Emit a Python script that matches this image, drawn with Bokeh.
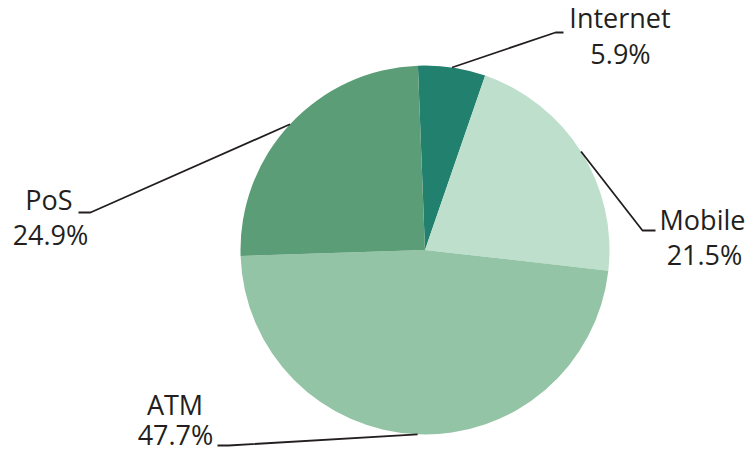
import math
from bokeh.plotting import figure
from bokeh.models import Range1d, ColumnDataSource
from bokeh.core.properties import value
from bokeh.embed import file_html
from bokeh.resources import INLINE

# ---- data ----
categories = ["Internet", "Mobile", "ATM", "PoS"]
shares = [5.9, 21.5, 47.7, 24.9]
colors = ["#22806F", "#BDDFCB", "#94C4A6", "#5A9D76"]

# ---- layout (reference pixel coords; y measured from top) ----
FIG_W, FIG_H = 754, 453
def fy(y):
    return FIG_H - y

CX, CY, R = 424.5, fy(249.5), 184.5
START_DEG = 92.2
TEXT_SHIFT = 11  # compensate for renderer baseline placement

# leader elbow / end points and label anchors per category
elbows = {"Internet": ((555, 32), (563, 32)),
          "Mobile": ((642, 230), (655, 230)),
          "ATM": ((228, 445), (217, 445)),
          "PoS": ((90, 212), (78, 212))}
name_pos = {"Internet": (619.5, 28), "Mobile": (702, 230), "ATM": (174.5, 415), "PoS": (48.5, 210)}
pct_pos = {"Internet": (620, 64), "Mobile": (704, 265), "ATM": (175, 445), "PoS": (50, 245)}

FONT = "Open Sans"
FONT_SIZE = "27px"
TXT = "#231F20"

p = figure(width=FIG_W, height=FIG_H, x_range=Range1d(0, FIG_W), y_range=Range1d(0, FIG_H),
           output_backend="svg", toolbar_location=None, min_border=0)
p.axis.visible = False
p.grid.visible = False
p.outline_line_color = None
p.background_fill_color = "white"
p.border_fill_color = "white"

total = sum(shares)
starts, ends, mids = [], [], []
cum = 0.0
for s in shares:
    a0 = math.radians(START_DEG) - cum / total * 2 * math.pi
    cum += s
    a1 = math.radians(START_DEG) - cum / total * 2 * math.pi
    starts.append(a0)
    ends.append(a1)
    mids.append((a0 + a1) / 2)

src = ColumnDataSource(dict(cat=categories, share=shares, color=colors, start=starts, end=ends))
p.wedge(x=CX, y=CY, radius=R, start_angle="start", end_angle="end", direction="clock",
        fill_color="color", line_color=None, source=src)

for cat, share, m in zip(categories, shares, mids):
    x0 = CX + R * math.cos(m)
    y0 = CY + R * math.sin(m)
    (ex, ey), (tx, ty) = elbows[cat]
    p.line([x0, ex, tx], [y0, fy(ey), fy(ty)], line_color=TXT, line_width=1.8)
    nx, ny = name_pos[cat]
    px_, py_ = pct_pos[cat]
    p.text(x=[nx], y=[fy(ny - TEXT_SHIFT)], text=[cat], text_align="center",
           text_baseline="alphabetic", text_font=value(FONT), text_font_size=FONT_SIZE,
           text_color=TXT)
    p.text(x=[px_], y=[fy(py_ - TEXT_SHIFT)], text=[f"{share:.1f}%"], text_align="center",
           text_baseline="alphabetic", text_font=value(FONT), text_font_size=FONT_SIZE,
           text_color=TXT)

open("out.html", "w").write(file_html(p, INLINE))
